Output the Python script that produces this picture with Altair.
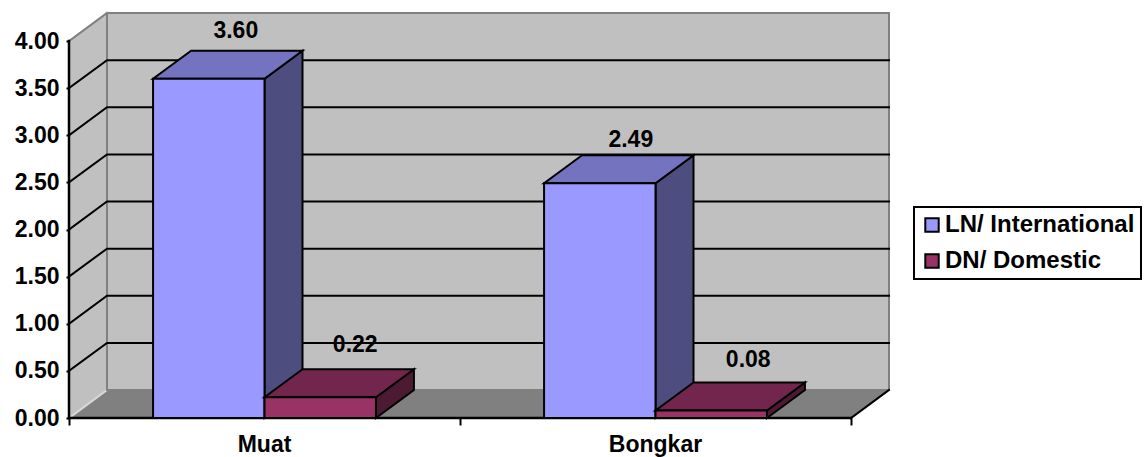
import altair as alt
import pandas as pd

categories = ["Muat", "Bongkar"]
series_names = ["LN/ International", "DN/ Domestic"]
international = [3.60, 2.49]
domestic = [0.22, 0.08]
y_ticks = [0, 0.5, 1, 1.5, 2, 2.5, 3, 3.5, 4]
front_colors = ["#9999FF", "#993366"]
top_colors = ["#7373BF", "#73264D"]
side_colors = ["#4D4D80", "#4D1A33"]

FONT = "Liberation Sans"
SIZE = 23

# One category spans one x unit; the oblique depth is expressed in axis units.
PLOT_W, PLOT_H = 820, 405
UNIT_PX, VALUE_PX = 391.0, 94.25
DEPTH_X = 38 / UNIT_PX
DEPTH_Y = 28 / VALUE_PX
BAR_START = 0.215
BAR_W = 0.285

x_scale = alt.Scale(domain=[0, PLOT_W / UNIT_PX], nice=False, zero=False)
y_scale = alt.Scale(domain=[0, PLOT_H / VALUE_PX], nice=False, zero=False)
color_scale = alt.Scale(domain=series_names, range=front_colors)

x_axis = alt.Axis(values=[0, 1, 2], labels=False, domain=False, grid=False,
                  tickSize=7, tickWidth=2, tickColor="black")
y_axis = alt.Axis(values=y_ticks, format=".2f", domain=False, grid=False,
                  tickSize=3, tickWidth=2, tickColor="black", labelPadding=7,
                  labelFont=FONT, labelFontSize=SIZE, labelFontWeight="bold",
                  labelColor="black")


def X(field="x"):
    return alt.X(f"{field}:Q", scale=x_scale, axis=x_axis, title=None)


def Y(field="y"):
    return alt.Y(f"{field}:Q", scale=y_scale, axis=y_axis, title=None, stack=None)


def side_face(xa, xb, ya, yb, fill, stroke=None, width=2):
    """Parallelogram whose vertical edges run from (xa, ya..yb) to the depth offset."""
    df = pd.DataFrame({"x": [xa, xb], "y": [ya[0], ya[1]], "y2": [yb[0], yb[1]]})
    kw = {"stroke": stroke, "strokeWidth": width} if stroke else {}
    return alt.Chart(df).mark_area(orient="vertical", color=fill, **kw).encode(
        x=X(), y=Y(), y2=alt.Y2("y2:Q")
    )


def flat_face(x0, x1, y0, fill, stroke=None, width=2):
    """Parallelogram lying in a horizontal plane, receding by the depth offset."""
    df = pd.DataFrame({
        "y": [y0, y0 + DEPTH_Y],
        "x": [x0, x0 + DEPTH_X],
        "x2": [x1, x1 + DEPTH_X],
    })
    kw = {"stroke": stroke, "strokeWidth": width} if stroke else {}
    return alt.Chart(df).mark_area(orient="horizontal", color=fill, **kw).encode(
        y=Y(), x=X(), x2=alt.X2("x2:Q")
    )


def segment(points, color, width):
    df = pd.DataFrame(points, columns=["x", "y"])
    df["o"] = range(len(df))
    return alt.Chart(df).mark_line(color=color, strokeWidth=width, strokeCap="square").encode(
        x=X(), y=Y(), order="o:Q"
    )


TOP = y_ticks[-1]
RIGHT = len(categories)
layers = []

# Chart walls and floor
layers.append(side_face(0, DEPTH_X, (0, DEPTH_Y), (TOP, TOP + DEPTH_Y), "#C0C0C0"))
layers.append(
    alt.Chart(pd.DataFrame({"x": [DEPTH_X], "x2": [DEPTH_X + RIGHT],
                            "y": [DEPTH_Y], "y2": [TOP + DEPTH_Y]}))
    .mark_rect(fill="#C0C0C0", stroke="#808080", strokeWidth=2)
    .encode(x=X(), x2="x2:Q", y=Y(), y2="y2:Q")
)
layers.append(flat_face(0, RIGHT, 0, "#808080"))
layers.append(segment([(0, 0), (DEPTH_X, DEPTH_Y)], "#D8D8D8", 2))
layers.append(segment([(DEPTH_X, DEPTH_Y), (DEPTH_X, TOP + DEPTH_Y)], "#808080", 2))
layers.append(segment([(0, TOP), (DEPTH_X, TOP + DEPTH_Y)], "#808080", 2))

# Gridlines wrap from the left wall onto the back wall
for v in y_ticks[1:-1]:
    layers.append(segment([(0, v), (DEPTH_X, v + DEPTH_Y), (DEPTH_X + RIGHT, v + DEPTH_Y)], "black", 2))

# Axis lines and the near edge of the floor
layers.append(segment([(0, 0), (0, TOP)], "black", 2.5))
layers.append(segment([(0, 0), (RIGHT, 0)], "black", 2.5))
layers.append(segment([(RIGHT, 0), (RIGHT + DEPTH_X, DEPTH_Y)], "black", 2))

# Value label nudges (dx, dy) relative to the centre of each bar's top face
label_nudges = {
    (0, 0): (8, -20),
    (0, 1): (16, -24),
    (1, 0): (12, -15),
    (1, 1): (18, -22),
}

labels = []
for c, cat in enumerate(categories):
    for s, values in enumerate([international, domestic]):
        v = values[c]
        x0 = c + BAR_START + s * BAR_W
        x1 = x0 + BAR_W
        layers.append(side_face(x1, x1 + DEPTH_X, (0, DEPTH_Y), (v, v + DEPTH_Y), side_colors[s], "black"))
        layers.append(flat_face(x0, x1, v, top_colors[s], "black"))
        layers.append(
            alt.Chart(pd.DataFrame({"x": [x0], "x2": [x1], "y": [0.0], "y2": [v],
                                    "series": [series_names[s]]}))
            .mark_bar(stroke="black", strokeWidth=2)
            .encode(
                x=X(), x2="x2:Q", y=Y(), y2="y2:Q",
                color=alt.Color(
                    "series:N", scale=color_scale,
                    legend=alt.Legend(
                        title=None, orient="none", legendX=845, legendY=194,
                        symbolType="square", symbolSize=180,
                        symbolStrokeColor="black", symbolStrokeWidth=2,
                        labelFont=FONT, labelFontSize=24, labelFontWeight="bold",
                        labelColor="black", labelLimit=300, labelOffset=1,
                        labelExpr="datum.label + '\\u00a0'",
                        rowPadding=12, padding=6,
                        strokeColor="black", fillColor="white",
                    ),
                ),
            )
        )
        dx, dy = label_nudges[(c, s)]
        labels.append(
            alt.Chart(pd.DataFrame({"x": [(x0 + x1 + DEPTH_X) / 2], "y": [v + DEPTH_Y], "t": [f"{v:.2f}"]}))
            .mark_text(font=FONT, fontSize=SIZE, fontWeight="bold", color="black",
                       baseline="middle", dx=dx, dy=dy)
            .encode(x=X(), y=Y(), text="t:N")
        )

# Category names sit below the axis, centred in each category's span
cat_labels = (
    alt.Chart(pd.DataFrame({"x": [i + 0.5 for i in range(len(categories))],
                            "y": [0.0] * len(categories), "t": categories}))
    .mark_text(font=FONT, fontSize=SIZE, fontWeight="bold", color="black", baseline="middle", dy=27)
    .encode(x=X(), y=Y(), text="t:N")
)

chart = (
    alt.layer(*layers, *labels, cat_labels)
    .properties(
        width=PLOT_W, height=PLOT_H,
        padding={"left": 69, "top": 13, "right": 257, "bottom": 39},
        autosize=alt.AutoSizeParams(type="none"),
        background="white",
    )
    .configure_view(stroke=None)
    .configure_legend(strokeWidth=2)
)

chart.save("out.html", embed_options={"renderer": "svg", "actions": False})
